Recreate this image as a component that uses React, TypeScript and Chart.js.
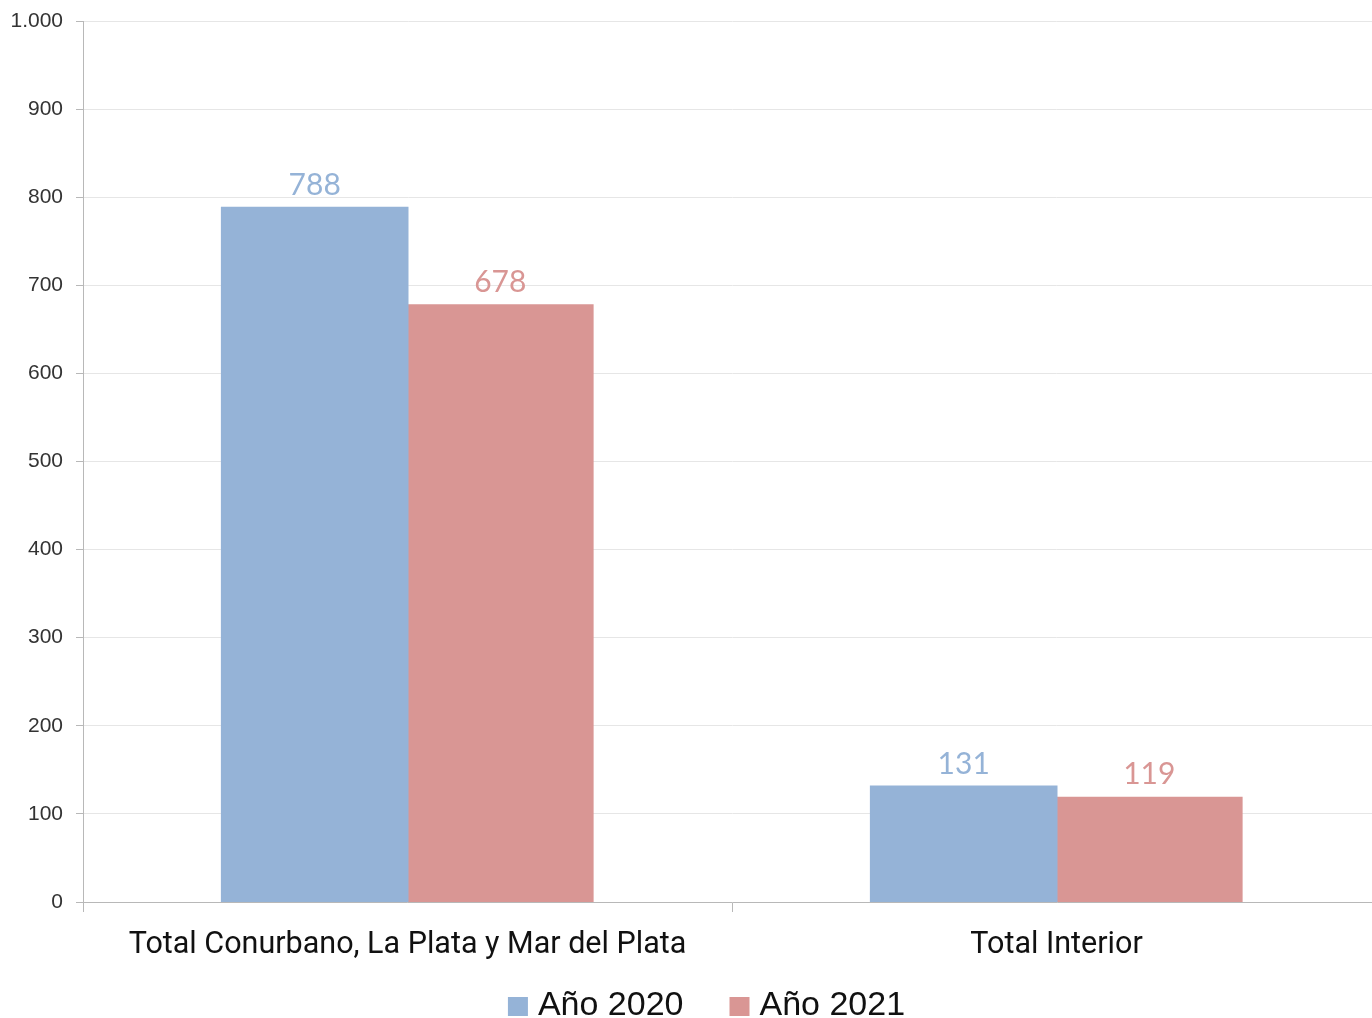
import React, { useEffect, useRef } from "react";
import { Chart, registerables } from "chart.js";

Chart.register(...registerables);

const categories = ["Total Conurbano, La Plata y Mar del Plata", "Total Interior"];
const seriesNames = ["Año 2020", "Año 2021"];
const values2020 = [788, 131];
const values2021 = [678, 119];
const colors = ["#95B3D7", "#D99694"];

const fmt = (v: number) => String(Math.round(v)).replace(/\B(?=(\d{3})+(?!\d))/g, ".");

const valueLabels = {
  id: "valueLabels",
  afterDatasetsDraw(chart: any) {
    const ctx = chart.ctx;
    ctx.save();
    ctx.font = "400 30px Lato";
    ctx.textAlign = "center";
    ctx.textBaseline = "alphabetic";
    chart.data.datasets.forEach((ds: any, i: number) => {
      const meta = chart.getDatasetMeta(i);
      meta.data.forEach((bar: any, j: number) => {
        ctx.fillStyle = ds.backgroundColor;
        ctx.fillText(fmt(ds.data[j]), bar.x, bar.y - 13);
      });
    });
    ctx.restore();
  },
};

const bottomLegend = {
  id: "bottomLegend",
  afterDraw(chart: any) {
    const ctx = chart.ctx;
    const box = 20;
    const gapBoxText = 10;
    const gapItems = 46;
    ctx.save();
    ctx.font = "34px 'Liberation Sans'";
    ctx.textBaseline = "alphabetic";
    ctx.textAlign = "left";
    const items = chart.data.datasets.map((ds: any) => ({
      label: ds.label,
      color: ds.backgroundColor,
      w: ctx.measureText(ds.label).width,
    }));
    const total = items.reduce((s: number, it: any) => s + box + gapBoxText + it.w, 0) + gapItems * (items.length - 1);
    let x = chart.width / 2 + 16 - total / 2;
    const baseline = chart.height - 3;
    items.forEach((it: any) => {
      ctx.fillStyle = it.color;
      ctx.fillRect(x, baseline - 18, box, box - 1);
      ctx.fillStyle = "#111";
      ctx.fillText(it.label, x + box + gapBoxText, baseline);
      x += box + gapBoxText + it.w + gapItems;
    });
    ctx.restore();
  },
};

export default function App() {
  const ref = useRef<HTMLCanvasElement | null>(null);
  useEffect(() => {
    document.body.style.margin = "0";
    const chart = new Chart(ref.current!, {
      type: "bar",
      data: {
        labels: categories,
        datasets: [
          { label: seriesNames[0], data: values2020, backgroundColor: colors[0], categoryPercentage: 0.572, barPercentage: 1, inflateAmount: 1 },
          { label: seriesNames[1], data: values2021, backgroundColor: colors[1], categoryPercentage: 0.572, barPercentage: 1, inflateAmount: 0.5 },
        ],
      },
      options: {
        animation: false,
        responsive: false,
        maintainAspectRatio: false,
        layout: { padding: { top: 21, right: 0, bottom: 46, left: 0 } },
        plugins: {
          tooltip: { enabled: false },
          legend: { display: false },
        },
        scales: {
          x: {
            grid: { drawOnChartArea: false, drawTicks: true, tickLength: 10, color: "#b8b8b8" },
            border: { color: "#b8b8b8" },
            ticks: { font: { family: "Roboto", size: 30.5 }, color: "#111", padding: 15 },
            afterFit: (s: any) => { s.height = 70; s.paddingLeft = 0; s.paddingRight = 0; },
          },
          y: {
            min: 0,
            max: 1000,
            ticks: { stepSize: 100, font: { family: "Liberation Sans", size: 21 }, color: "#333", padding: 13, callback: (v: any) => fmt(Number(v)) },
            grid: { color: "#e6e6e6", tickLength: 7, tickColor: "#b8b8b8" },
            border: { color: "#b8b8b8" },
            afterFit: (s: any) => { s.width = 83; s.paddingTop = 0; s.paddingBottom = 0; },
          },
        },
      },
      plugins: [valueLabels, bottomLegend],
    });
    return () => chart.destroy();
  }, []);
  return (
    <div style={{ position: "fixed", left: 0, top: 0, width: 1372, height: 1018, overflow: "hidden", background: "#fff" }}>
      <canvas ref={ref} width={1381} height={1018} style={{ width: 1381, height: 1018, display: "block" }} />
    </div>
  );
}
